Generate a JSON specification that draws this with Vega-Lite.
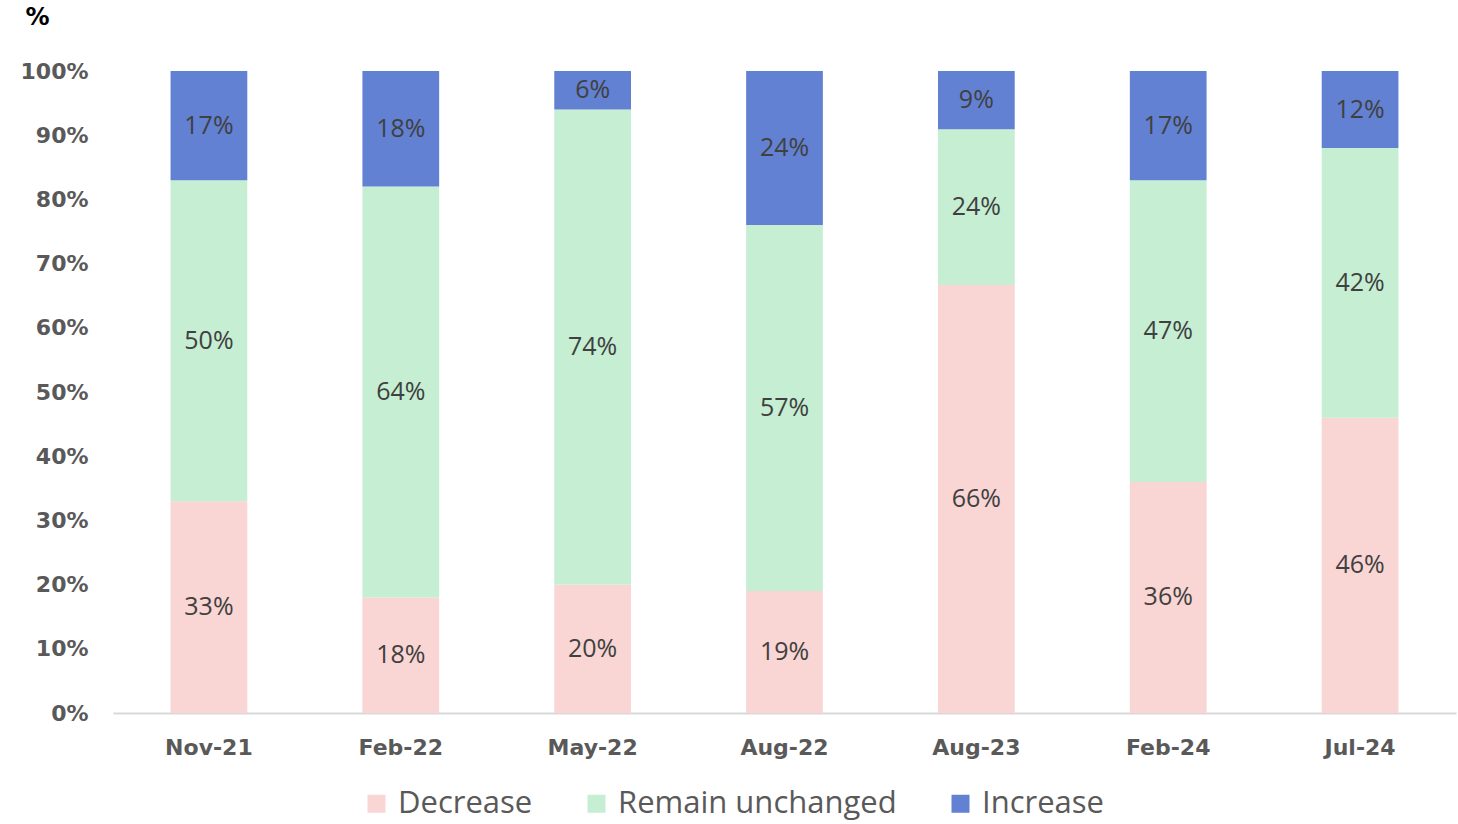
{
  "$schema": "https://vega.github.io/schema/vega-lite/v6.json",
  "width": 1343,
  "height": 642,
  "autosize": {"type": "none"},
  "padding": {"left": 113, "top": 71, "right": 2, "bottom": 111},
  "background": "white",
  "config": {"view": {"stroke": null}, "font": "Open Sans"},
  "data": {"values": [
    {"period": "Nov-21", "series": "Decrease", "value": 33},
    {"period": "Nov-21", "series": "Remain unchanged", "value": 50},
    {"period": "Nov-21", "series": "Increase", "value": 17},
    {"period": "Feb-22", "series": "Decrease", "value": 18},
    {"period": "Feb-22", "series": "Remain unchanged", "value": 64},
    {"period": "Feb-22", "series": "Increase", "value": 18},
    {"period": "May-22", "series": "Decrease", "value": 20},
    {"period": "May-22", "series": "Remain unchanged", "value": 74},
    {"period": "May-22", "series": "Increase", "value": 6},
    {"period": "Aug-22", "series": "Decrease", "value": 19},
    {"period": "Aug-22", "series": "Remain unchanged", "value": 57},
    {"period": "Aug-22", "series": "Increase", "value": 24},
    {"period": "Aug-23", "series": "Decrease", "value": 66},
    {"period": "Aug-23", "series": "Remain unchanged", "value": 24},
    {"period": "Aug-23", "series": "Increase", "value": 9},
    {"period": "Feb-24", "series": "Decrease", "value": 36},
    {"period": "Feb-24", "series": "Remain unchanged", "value": 47},
    {"period": "Feb-24", "series": "Increase", "value": 17},
    {"period": "Jul-24", "series": "Decrease", "value": 46},
    {"period": "Jul-24", "series": "Remain unchanged", "value": 42},
    {"period": "Jul-24", "series": "Increase", "value": 12}
  ]},
  "transform": [
    {"calculate": "indexof(['Decrease','Remain unchanged','Increase'], datum.series)", "as": "ord"},
    {"calculate": "datum.value + '%'", "as": "label"}
  ],
  "encoding": {
    "x": {
      "field": "period", "type": "nominal", "sort": null,
      "scale": {"paddingInner": 0.6, "paddingOuter": 0.3},
      "axis": {
        "title": null, "labelAngle": 0, "ticks": false,
        "domainColor": "#d9d9d9", "domainWidth": 2,
        "labelFont": "DejaVu Sans", "labelFontSize": 22, "labelFontWeight": "bold", "labelColor": "#595959",
        "labelPadding": 24
      }
    },
    "y": {
      "field": "value", "type": "quantitative", "stack": "normalize",
      "scale": {"domain": [0, 1], "nice": false},
      "axis": {
        "format": ".0%", "values": [0, 0.1, 0.2, 0.3, 0.4, 0.5, 0.6, 0.7, 0.8, 0.9, 1],
        "grid": false, "domain": false, "ticks": false,
        "labelFont": "DejaVu Sans", "labelFontSize": 22, "labelFontWeight": "bold", "labelColor": "#595959",
        "labelPadding": 25,
        "title": "%", "titleAngle": 0, "titleFont": "DejaVu Sans", "titleFontSize": 24, "titleFontWeight": "bold",
        "titleColor": "#000000", "titleAlign": "left", "titleBaseline": "middle",
        "titleX": -88, "titleY": -54
      }
    },
    "order": {"field": "ord", "type": "quantitative", "sort": "ascending"}
  },
  "layer": [
    {
      "mark": {"type": "bar"},
      "encoding": {
        "color": {
          "field": "series", "type": "nominal",
          "scale": {"domain": ["Decrease", "Remain unchanged", "Increase"], "range": ["#F9D5D3", "#C5EED3", "#6281D3"]},
          "legend": {
            "title": null, "orient": "none", "direction": "horizontal",
            "legendX": 248, "legendY": 717,
            "symbolType": "square", "symbolSize": 324, "symbolStrokeWidth": 0,
            "labelFontSize": 31, "labelColor": "#595959", "columnPadding": 48,
            "labelOffset": 6, "labelLimit": 0
          }
        }
      }
    },
    {
      "mark": {"type": "text", "fontSize": 25, "color": "#404040", "baseline": "middle", "align": "center"},
      "encoding": {
        "y": {"field": "value", "type": "quantitative", "stack": "normalize", "bandPosition": 0.5},
        "text": {"field": "label", "type": "nominal"}
      }
    }
  ]
}
